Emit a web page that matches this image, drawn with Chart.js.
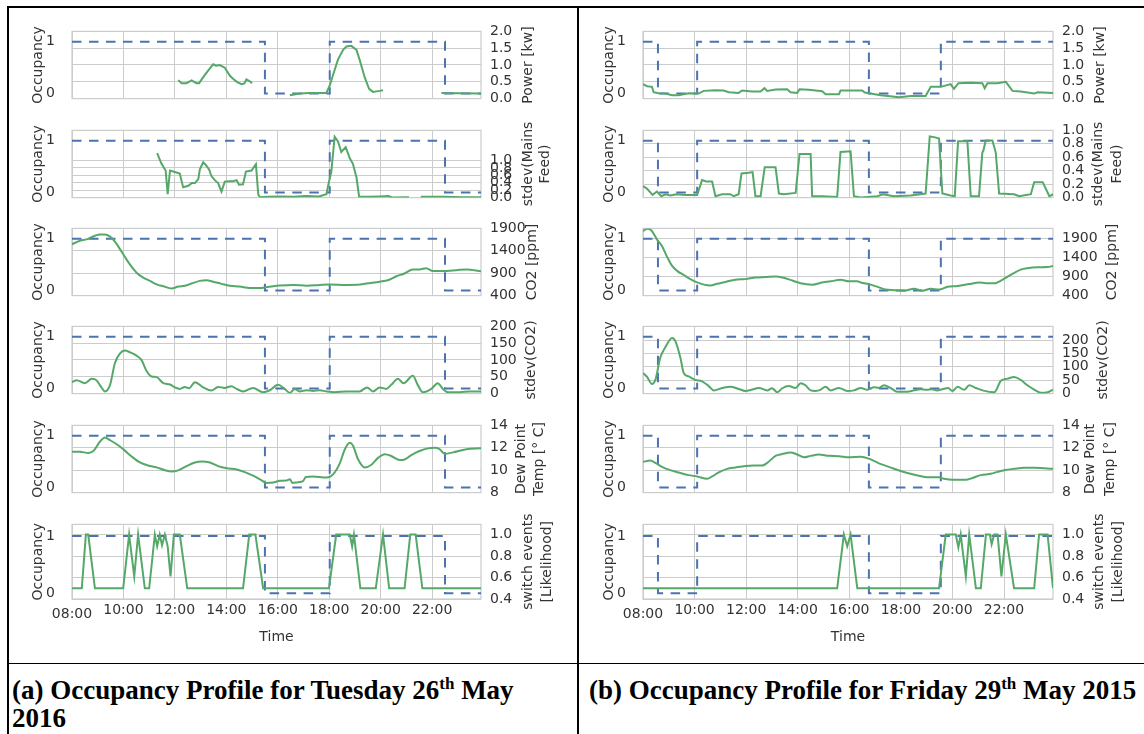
<!DOCTYPE html>
<html>
<head>
<meta charset="utf-8">
<title>Occupancy profiles</title>
<script src="https://cdn.jsdelivr.net/npm/chart.js@4.4.1/dist/chart.umd.min.js"></script>
<style>
  html, body { margin: 0; padding: 0; background: #fff; }
  #page { position: relative; width: 1144px; height: 734px; overflow: hidden; background: #fff; }
  #page canvas { position: absolute; }
  .rule { position: absolute; background: #000; }
  .cap { position: absolute; font-family: 'Liberation Serif', 'Times New Roman', serif; font-weight: bold;
         font-size: 27px; line-height: 28px; color: #000; white-space: nowrap; }
  .cap sup { font-size: 17px; line-height: 0; vertical-align: 10px; }
</style>
</head>
<body>
<div id="page">
  <div class="rule" style="left:7px;top:6px;width:1137px;height:2px"></div>
  <div class="rule" style="left:7px;top:6px;width:2px;height:728px"></div>
  <div class="rule" style="left:577px;top:6px;width:2px;height:728px"></div>
  <div class="rule" style="left:7px;top:663px;width:1137px;height:1px"></div>
  <div class="cap" style="left:12px;top:676px">(a) Occupancy Profile for Tuesday 26<sup>th</sup> May<br>2016</div>
  <div class="cap" style="left:589px;top:676px">(b) Occupancy Profile for Friday 29<sup>th</sup> May 2015</div>
</div>
<script>
'use strict';

// ── AXIS TICKS ───────────────────────────────────────────
const hourTicks   = [8, 10, 12, 14, 16, 18, 20, 22];
const hourLabels  = ['08:00', '10:00', '12:00', '14:00', '16:00', '18:00', '20:00', '22:00'];
const occTicks    = [0, 1];
const powerTicks  = [0, 0.5, 1.0, 1.5, 2.0];
const mainsTicks  = [0, 0.2, 0.4, 0.6, 0.8, 1.0];
const co2Ticks    = [400, 900, 1400, 1900];
const sco2Ticks   = [0, 50, 100, 150, 200];
const dewTicks    = [8, 10, 12, 14];
const switchTicks = [0.4, 0.6, 0.8, 1.0];

// ── (a) TUESDAY 26 MAY — [hour, value] ───────────────────
const occA = [[8, 1], [15.5, 0], [18.02, 1], [22.5, 0], [23.9, 0]];

const powerA = [[12.13,0.55],[12.26,0.46],[12.45,0.46],[12.65,0.54],[12.84,0.46],[12.94,0.46],[13.13,0.67],
  [13.3,0.84],[13.49,1.02],[13.6,0.98],[13.74,1.0],[13.94,0.92],[14.14,0.68],[14.26,0.59],[14.42,0.49],
  [14.59,0.43],[14.7,0.45],[14.78,0.57],[14.88,0.53],[15.0,0.46],[15.2,null],
  [16.47,0.10],[16.85,0.15],[17.24,0.17],[17.89,0.17],[18.02,0.39],[18.15,0.71],[18.34,1.16],[18.54,1.45],
  [18.67,1.55],[18.86,1.57],[19.06,1.45],[19.18,1.16],[19.38,0.63],[19.55,0.29],[19.7,0.2],[19.96,0.23],
  [20.09,0.25],[21.0,null],[22.36,0.17],[23.0,0.16],[23.9,0.15]];

const mainsA = [[11.31,1.2],[11.48,0.91],[11.64,0.73],[11.72,0.09],[11.81,0.73],[12.0,0.69],[12.19,0.65],
  [12.32,0.28],[12.52,0.32],[12.65,0.39],[12.78,0.39],[12.91,0.5],[12.97,0.76],[13.1,0.95],[13.2,0.88],
  [13.33,0.76],[13.42,0.58],[13.55,0.47],[13.68,0.39],[13.81,0.16],[13.94,0.43],[14.1,0.44],[14.26,0.44],
  [14.4,0.47],[14.49,0.35],[14.65,0.36],[14.76,0.7],[14.98,0.73],[15.15,0.9],[15.24,0.09],[15.3,0.01],
  [15.6,0.02],[16.1,0.03],[16.6,0.02],[17.1,0.04],[17.6,0.03],[17.89,0.09],[17.99,0.43],[18.08,0.69],
  [18.21,1.64],[18.34,1.51],[18.47,1.23],[18.64,1.36],[18.8,1.06],[18.92,0.91],[19.06,0.54],[19.16,0.03],
  [19.5,0.02],[19.96,0.03],[20.3,0.04],[20.48,0.0],[21.1,0.01],[21.3,null],[21.56,0.02],[22.5,0.02],
  [23.2,0.01],[23.9,0.01]];

const co2A = [[8.0,1547],[8.31,1625],[8.57,1656],[8.89,1735],[9.09,1766],[9.28,1766],[9.48,1717],[9.67,1607],
  [9.86,1443],[10.06,1260],[10.25,1095],[10.51,912],[10.77,802],[11.03,729],[11.29,650],[11.55,607],
  [11.87,559],[12.13,601],[12.39,619],[12.65,669],[12.97,729],[13.23,742],[13.49,711],[13.81,662],
  [14.14,619],[14.52,601],[14.91,570],[15.3,570],[15.56,589],[15.82,610],[16.08,625],[16.6,638],
  [17.12,619],[17.63,638],[18.02,650],[18.67,638],[19.12,640],[19.44,669],[19.96,711],[20.28,742],
  [20.61,833],[20.93,894],[21.25,985],[21.51,985],[21.77,1010],[22.03,949],[22.42,949],[22.94,967],
  [23.33,985],[23.9,943]];

const sco2A = [[8.0,34],[8.18,40],[8.5,31],[8.77,44],[8.96,39],[9.13,20],[9.28,6.5],[9.48,26],[9.67,91],
  [9.86,119],[10.06,128],[10.25,123],[10.51,113],[10.71,99],[10.9,67],[11.09,51],[11.29,49],[11.55,31],
  [11.81,27],[12.0,18.5],[12.19,14],[12.39,20],[12.55,16],[12.78,34],[13.1,18.5],[13.42,9],[13.68,20],
  [13.94,17],[14.2,22],[14.4,14],[14.65,6.5],[15.04,17],[15.43,4],[15.69,10],[16.01,26],[16.27,14],
  [16.47,2],[16.66,14],[16.85,6.5],[17.12,10],[17.37,8],[17.63,10],[17.89,6.5],[18.21,4],[18.67,6.5],
  [19.18,6.5],[19.47,18.5],[19.7,6.5],[19.96,18.5],[20.22,14],[20.41,26],[20.67,44],[20.89,31],[21.25,53],
  [21.44,26],[21.64,4],[21.97,14],[22.22,31],[22.42,14],[22.61,4],[23.07,4],[23.46,6.5],[23.9,6.5]];

const dewA = [[8.0,11.64],[8.31,11.64],[8.63,11.54],[8.83,11.71],[9.09,12.56],[9.28,12.93],[9.48,12.68],
  [9.74,12.32],[9.99,11.88],[10.32,11.22],[10.64,10.69],[10.96,10.42],[11.29,10.25],[11.61,10.0],
  [11.87,9.88],[12.13,9.98],[12.45,10.36],[12.78,10.69],[13.04,10.78],[13.36,10.69],[13.68,10.36],
  [14.01,10.17],[14.4,10.07],[14.72,9.83],[15.04,9.51],[15.37,9.1],[15.56,8.86],[15.82,8.9],[16.08,9.05],
  [16.34,9.07],[16.47,9.2],[16.57,8.86],[16.79,8.93],[16.98,9.02],[17.09,9.39],[17.37,9.44],[17.89,9.34],
  [18.15,9.63],[18.41,10.61],[18.6,11.83],[18.8,12.44],[18.92,12.2],[19.12,10.98],[19.38,10.25],
  [19.64,10.49],[19.9,11.1],[20.16,11.42],[20.41,11.27],[20.74,10.9],[20.93,10.95],[21.19,11.35],
  [21.51,11.71],[21.84,11.95],[22.1,12.0],[22.29,11.88],[22.49,11.46],[22.81,11.59],[23.33,11.88],[23.9,11.95]];

const switchA = [[8.0,0.5],[8.38,0.5],[8.54,1.0],[8.63,1.0],[8.89,0.5],[9.99,0.5],[10.22,1.0],[10.42,0.61],
  [10.57,1.0],[10.83,0.5],[11.0,0.5],[11.22,1.0],[11.31,0.89],[11.41,1.0],[11.5,0.9],[11.61,1.0],
  [11.72,0.89],[11.83,0.61],[11.96,1.0],[12.19,1.0],[12.48,0.5],[14.65,0.5],[14.89,1.0],[15.13,1.0],
  [15.43,0.5],[17.99,0.5],[18.27,1.0],[18.8,1.0],[18.89,0.89],[18.96,1.0],[19.21,0.5],[19.81,0.5],
  [20.09,1.0],[20.33,0.5],[20.93,0.5],[21.15,1.0],[21.36,1.0],[21.62,0.5],[23.9,0.5]];

// ── (b) FRIDAY 29 MAY — [hour, value] ────────────────────
const occB = [[8, 1], [8.58, 0], [10.1, 1], [16.76, 0], [19.55, 1], [23.9, 1]];

const powerB = [[8.0,0.43],[8.16,0.37],[8.35,0.35],[8.41,0.19],[8.61,0.16],[8.87,0.15],[9.13,0.1],[9.38,0.1],
  [9.77,0.16],[10.16,0.15],[10.35,0.23],[10.81,0.25],[11.13,0.24],[11.33,0.19],[11.71,0.17],[11.84,0.24],
  [12.23,0.21],[12.56,0.21],[12.71,0.31],[12.82,0.23],[13.14,0.27],[13.59,0.28],[13.72,0.19],[13.98,0.17],
  [14.07,0.28],[14.43,0.26],[14.95,0.22],[15.08,0.13],[15.6,0.13],[15.66,0.24],[16.5,0.24],[16.6,0.18],
  [16.76,0.16],[17.22,0.1],[17.93,0.04],[18.38,0.08],[18.96,0.08],[19.16,0.35],[19.55,0.35],[19.93,0.43],
  [20.06,0.29],[20.23,0.46],[20.71,0.47],[21.16,0.46],[21.25,0.31],[21.36,0.46],[21.75,0.46],[22.07,0.5],
  [22.33,0.23],[22.65,0.21],[23.17,0.15],[23.3,0.19],[23.9,0.17]];

const mainsB = [[8.0,0.17],[8.16,0.13],[8.37,0.04],[8.54,0.09],[8.71,0.02],[8.87,0.05],[9.06,0.03],[9.3,0.05],
  [9.64,0.04],[10.1,0.04],[10.29,0.26],[10.45,0.24],[10.68,0.24],[10.81,0.02],[11.07,0.05],[11.39,0.05],
  [11.52,0.02],[11.71,0.05],[11.82,0.36],[12.1,0.37],[12.25,0.38],[12.36,0.02],[12.56,0.02],[12.72,0.45],
  [13.14,0.45],[13.27,0.06],[13.46,0.05],[13.92,0.07],[14.07,0.65],[14.5,0.65],[14.56,0.02],[14.95,0.02],
  [15.53,0.01],[15.66,0.68],[16.05,0.69],[16.18,0.02],[16.44,0.0],[17.09,0.02],[17.3,0.05],[17.73,0.02],
  [18.38,0.03],[18.96,0.06],[19.12,0.91],[19.29,0.9],[19.48,0.88],[19.61,0.06],[19.93,0.03],[20.09,0.02],
  [20.22,0.84],[20.58,0.84],[20.71,0.02],[21.03,0.02],[21.16,0.67],[21.2,0.7],[21.29,0.85],[21.55,0.85],
  [21.68,0.67],[21.81,0.06],[22.39,0.05],[22.59,0.02],[23.04,0.05],[23.17,0.23],[23.5,0.23],[23.76,0.02],
  [23.9,0.05]];

const co2B = [[8.0,2095],[8.16,2154],[8.32,2117],[8.54,1879],[8.74,1699],[8.94,1409],[9.13,1179],[9.32,1050],
  [9.58,941],[9.84,833],[10.1,746],[10.36,688],[10.61,666],[10.87,710],[11.2,759],[11.58,818],[11.97,833],
  [12.36,876],[12.75,889],[13.14,904],[13.46,868],[13.79,796],[14.11,725],[14.57,688],[14.95,746],
  [15.28,775],[15.66,818],[15.98,775],[16.31,775],[16.44,746],[16.83,688],[17.15,616],[17.41,558],
  [17.73,543],[18.12,529],[18.51,580],[18.83,529],[19.16,580],[19.48,558],[19.81,630],[20.2,652],
  [20.65,703],[21.04,746],[21.3,724],[21.62,724],[22.01,846],[22.34,976],[22.65,1084],[22.91,1121],
  [23.3,1143],[23.69,1150],[23.9,1179]];

const sco2B = [[8.0,77],[8.16,62],[8.35,36],[8.48,51],[8.67,134],[8.87,174],[9.13,208],[9.26,195],[9.45,134],
  [9.58,77],[9.77,64],[10.03,51],[10.29,46],[10.55,28],[10.74,12],[11.07,21],[11.39,26],[11.71,17],
  [11.97,10],[12.2,14],[12.49,21],[12.82,12],[13.0,20],[13.21,5],[13.4,20],[13.65,28],[13.92,21],[14.11,39],
  [14.3,31],[14.5,12],[14.69,10],[14.88,14],[15.08,26],[15.28,12],[15.6,21],[15.92,10],[16.18,12],
  [16.44,21],[16.7,14],[16.96,24],[17.15,21],[17.34,31],[17.6,21],[17.86,7],[18.25,7],[18.51,12],
  [18.75,16],[19.01,14],[19.2,16],[19.4,12],[19.6,16],[19.83,21],[20.0,10],[20.2,26],[20.45,14],[20.65,31],
  [20.91,21],[21.17,12],[21.62,5],[21.88,48],[22.14,56],[22.39,62],[22.65,51],[22.91,31],[23.17,15],
  [23.43,3],[23.69,5],[23.9,15]];

const dewB = [[8.0,10.74],[8.28,10.86],[8.48,10.66],[8.74,10.3],[9.0,10.05],[9.38,9.8],[9.77,9.56],[10.1,9.44],
  [10.49,9.24],[10.68,9.44],[10.94,9.8],[11.26,10.12],[11.58,10.24],[11.97,10.37],[12.3,10.41],[12.62,10.41],
  [12.82,10.66],[13.14,11.28],[13.4,11.44],[13.72,11.59],[13.98,11.4],[14.24,11.15],[14.5,11.28],
  [14.82,11.4],[15.21,11.28],[15.6,11.25],[15.98,11.15],[16.44,11.2],[16.76,11.03],[17.15,10.61],
  [17.54,10.3],[17.99,9.93],[18.45,9.63],[18.83,9.44],[19.09,9.36],[19.48,9.36],[19.67,9.24],[20.0,9.14],
  [20.52,9.14],[20.78,9.31],[21.1,9.56],[21.49,9.68],[21.75,9.85],[22.01,10.0],[22.39,10.12],[22.78,10.22],
  [23.17,10.22],[23.56,10.17],[23.9,10.12]];

const switchB = [[8.0,0.5],[15.53,0.5],[15.79,1.0],[15.92,0.89],[16.05,1.0],[16.31,0.5],[19.48,0.5],
  [19.74,1.0],[20.13,1.0],[20.23,0.88],[20.32,1.0],[20.52,0.61],[20.65,1.0],[20.91,0.5],[21.1,0.5],
  [21.3,1.0],[21.45,1.0],[21.52,0.91],[21.62,1.0],[21.75,1.0],[21.9,0.61],[22.07,1.0],[22.39,0.5],
  [23.17,0.5],[23.36,1.0],[23.69,1.0],[23.9,0.5]];

// ── STYLE / LAYOUT ───────────────────────────────────────
const GREEN = '#55a868';
const BLUE  = '#4c72b0';
const GRID  = '#cccccc';
const TEXT  = '#333333';
const FONT  = "'DejaVu Sans', sans-serif";
const X_MIN = 8, X_MAX = 23.9;
const TOPS = [24, 123, 221, 319, 418, 517];
const PLOT_H = 82, PAD_T = 10, LEFT_W = 64;

const PANELS = [
  { left: 8, plotW: 409, rightW: 95, occ: occA, rows: [
    { data: powerA,  min: 0,   max: 2,     ticks: powerTicks,  dec: 1, smooth: false, title: ['Power [kw]'],               tx: [47] },
    { data: mainsA,  min: 0,   max: 1.81,  ticks: mainsTicks,  dec: 1, smooth: false, title: ['stdev(Mains', 'Feed)'],     tx: [47, 64] },
    { data: co2A,    min: 400, max: 1900,  ticks: co2Ticks,    dec: 0, smooth: true,  title: ['CO2 [ppm]'],                tx: [51] },
    { data: sco2A,   min: 0,   max: 200,   ticks: sco2Ticks,   dec: 0, smooth: true,  title: ['stdev(CO2)'],               tx: [50] },
    { data: dewA,    min: 8,   max: 14,    ticks: dewTicks,    dec: 0, smooth: true,  title: ['Dew Point', 'Temp [° C]'],  tx: [40, 58] },
    { data: switchA, min: 0.4, max: 1.095, ticks: switchTicks, dec: 1, smooth: false, title: ['switch events', '[Likelihood]'], tx: [47, 66] }
  ]},
  { left: 579, plotW: 410, rightW: 88, occ: occB, rows: [
    { data: powerB,  min: 0,   max: 2,     ticks: powerTicks,  dec: 1, smooth: false, title: ['Power [kw]'],               tx: [47] },
    { data: mainsB,  min: 0,   max: 1.0,   ticks: mainsTicks,  dec: 1, smooth: false, title: ['stdev(Mains', 'Feed)'],     tx: [45, 64] },
    { data: co2B,    min: 400, max: 2166,  ticks: co2Ticks,    dec: 0, smooth: true,  title: ['CO2 [ppm]'],                tx: [59] },
    { data: sco2B,   min: 0,   max: 251,   ticks: sco2Ticks,   dec: 0, smooth: true,  title: ['stdev(CO2)'],               tx: [50] },
    { data: dewB,    min: 8,   max: 14,    ticks: dewTicks,    dec: 0, smooth: true,  title: ['Dew Point', 'Temp [° C]'],  tx: [37, 57] },
    { data: switchB, min: 0.4, max: 1.094, ticks: switchTicks, dec: 1, smooth: false, title: ['switch events', '[Likelihood]'], tx: [46, 65] }
  ]}
];

// ── PLUGINS ──────────────────────────────────────────────
const framePlugin = {
  id: 'frame',
  beforeDatasetsDraw(chart) {
    const { ctx, chartArea: a } = chart;
    ctx.save();
    ctx.strokeStyle = GRID;
    ctx.lineWidth = 1.2;
    ctx.strokeRect(a.left, a.top, a.right - a.left, a.bottom - a.top);
    ctx.restore();
  }
};

// right-hand axis label, read bottom-to-top like matplotlib's twin axis
function rightTitle(lines, offs) {
  return {
    id: 'rtitle',
    afterDraw(chart) {
      const { ctx, chartArea: a } = chart;
      ctx.save();
      ctx.fillStyle = TEXT;
      ctx.font = "14px 'DejaVu Sans'";
      ctx.textAlign = 'center';
      ctx.textBaseline = 'middle';
      lines.forEach((t, i) => {
        ctx.save();
        ctx.translate(a.right + offs[i], (a.top + a.bottom) / 2);
        ctx.rotate(-Math.PI / 2);
        ctx.fillText(t, 0, 0);
        ctx.restore();
      });
      ctx.restore();
    }
  };
}

// ── BUILD ────────────────────────────────────────────────
const page = document.getElementById('page');

PANELS.forEach(panel => {
  panel.rows.forEach((row, i) => {
    const last = i === panel.rows.length - 1;
    const xH = last ? 51 : 10;
    const w = LEFT_W + panel.plotW + panel.rightW;
    const h = PAD_T + PLOT_H + xH;
    const cv = document.createElement('canvas');
    cv.width = w; cv.height = h;
    cv.style.left = panel.left + 'px';
    cv.style.top = (TOPS[i] - PAD_T) + 'px';
    cv.style.width = w + 'px'; cv.style.height = h + 'px';
    page.appendChild(cv);

    new Chart(cv.getContext('2d'), {
      type: 'line',
      data: {
        datasets: [
          {
            data: row.data.map(p => ({ x: p[0], y: p[1] })),
            yAxisID: 'yVal',
            borderColor: GREEN, borderWidth: 2,
            pointRadius: 0, fill: false, spanGaps: false,
            tension: 0, cubicInterpolationMode: row.smooth ? 'monotone' : 'default'
          },
          {
            data: panel.occ.map(p => ({ x: p[0], y: p[1] })),
            yAxisID: 'yOcc',
            borderColor: BLUE, borderWidth: 2, borderDash: [9.5, 7.5],
            pointRadius: 0, fill: false, stepped: 'before'
          }
        ]
      },
      options: {
        responsive: false,
        animation: false,
        events: [],
        layout: { padding: { top: PAD_T, left: 0, right: 0, bottom: 0 } },
        plugins: { legend: { display: false }, tooltip: { enabled: false } },
        scales: {
          x: {
            type: 'linear', min: X_MIN, max: X_MAX,
            afterBuildTicks: s => { s.ticks = hourTicks.map(v => ({ value: v })); },
            afterFit: s => { s.height = xH; },
            grid: { color: GRID, lineWidth: 1, drawTicks: false },
            border: { display: false },
            ticks: {
              display: last, autoSkip: false, maxRotation: 0, padding: 3, color: TEXT,
              font: c => ({ family: FONT, size: 14, lineHeight: c.index === 0 ? 1.75 : 1.2 }),
              callback: (v, idx) => hourLabels[idx]
            },
            title: { display: last, text: 'Time', color: TEXT, font: { family: FONT, size: 14 },
                     padding: { top: 0, bottom: 4 } }
          },
          yOcc: {
            type: 'linear', axis: 'y', position: 'left', min: -0.1, max: 1.2,
            afterBuildTicks: s => { s.ticks = occTicks.map(v => ({ value: v })); },
            afterFit: s => { s.width = LEFT_W; },
            grid: { display: false },
            border: { display: false },
            ticks: { color: TEXT, padding: 9, font: { family: FONT, size: 14 }, callback: v => String(v) },
            title: { display: true, text: 'Occupancy', color: TEXT, font: { family: FONT, size: 14 },
                     padding: { top: 21.6, bottom: 0 } }
          },
          yVal: {
            type: 'linear', axis: 'y', position: 'right', min: row.min, max: row.max,
            afterBuildTicks: s => { s.ticks = row.ticks.map(v => ({ value: v })); },
            afterFit: s => { s.width = panel.rightW; },
            grid: { color: GRID, lineWidth: 1, drawTicks: false },
            border: { display: false },
            ticks: { color: TEXT, padding: 9, autoSkip: false, font: { family: FONT, size: 14 },
                     callback: v => v.toFixed(row.dec) }
          }
        }
      },
      plugins: [framePlugin, rightTitle(row.title, row.tx)]
    });
  });
});
</script>
</body>
</html>
